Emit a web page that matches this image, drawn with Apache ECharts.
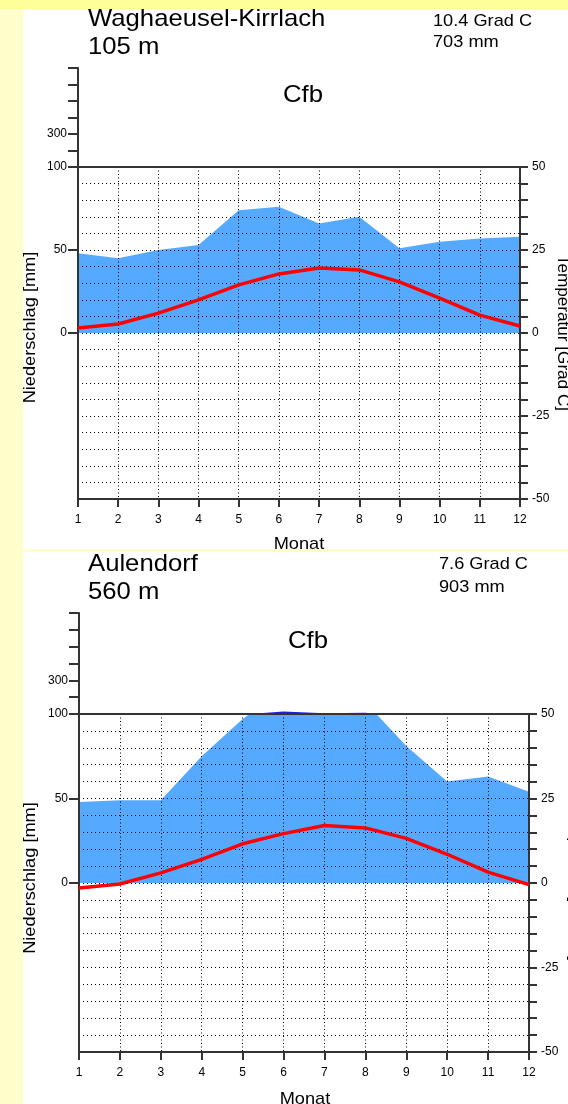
<!DOCTYPE html>
<html>
<head>
<meta charset="utf-8">
<script src="https://cdn.jsdelivr.net/npm/echarts@6/dist/echarts.min.js"></script>
<style>
html,body{margin:0;padding:0;background:#fff;}
#c{width:568px;height:1104px;}
</style>
</head>
<body>
<div id="c"></div>
<script>
// ---- data ----
const months = [1,2,3,4,5,6,7,8,9,10,11,12];
const stationNames = ['Waghaeusel-Kirrlach', 'Aulendorf'];
const stationHeights = ['105 m', '560 m'];
const meanTemps = ['10.4 Grad C', '7.6 Grad C'];
const totalPrecips = ['703 mm', '903 mm'];
const climateClasses = ['Cfb', 'Cfb'];
const precip1 = [48,45,50,53,74,76,66,70,51,55,57,58];
const temp1 = [1.5,2.7,6.0,10.0,14.5,17.8,19.6,19.0,15.4,10.5,5.4,2.1];
const precip2 = [48,49,49,75,97,115,105,107,81,60,63,54];
const temp2 = [-1.5,-0.3,3.0,7.0,11.6,14.6,17.0,16.3,13.2,8.5,3.2,-0.5];
const precipTicks = [0,50,100];
const highPrecipLabels = [300];
const tempLabels = [-50,-25,0,25,50];

const FONT = 'Liberation Sans, Arial, sans-serif';
const AX = '#333';

const chart = echarts.init(document.getElementById('c'), null, {renderer:'canvas'});

// layouts per panel
const panels = [
  {left:78, width:442, highTop:68, highH:99, top:167, h:332, precip:precip1, temp:temp1},
  {left:79, width:450, highTop:613, highH:101, top:714, h:338, precip:precip2, temp:temp2}
];

const grid = [], xAxis = [], yAxis = [], series = [];
panels.forEach((p, i) => {
  const gHigh = grid.length;
  grid.push({left:p.left, top:p.highTop, width:p.width, height:p.highH, containLabel:false});
  const gMain = grid.length;
  grid.push({left:p.left, top:p.top, width:p.width, height:p.h, containLabel:false});

  const xHigh = xAxis.length;
  xAxis.push({gridIndex:gHigh, type:'value', min:1, max:12, interval:1, z:3,
    axisLine:{show:true, onZero:false, lineStyle:{color:AX, width:2}},
    axisTick:{show:false}, axisLabel:{show:false}, splitLine:{show:false}});
  const xMain = xAxis.length;
  xAxis.push({gridIndex:gMain, type:'value', min:1, max:12, interval:1, z:3,
    axisLine:{show:true, onZero:false, lineStyle:{color:AX, width:2}},
    axisTick:{show:true, inside:false, length:8, lineStyle:{color:AX, width:2}},
    axisLabel:{show:true, margin:15, fontSize:12, fontFamily:FONT, color:'#000'},
    splitLine:{show:true, lineStyle:{color:'#000', width:1, type:[1,2.5]}}});

  const yHigh = yAxis.length;
  yAxis.push({gridIndex:gHigh, type:'value', min:100, max:700, interval:100, position:'left', z:3,
    axisLine:{show:true, onZero:false, lineStyle:{color:AX, width:2}},
    axisTick:{show:true, inside:false, length:10, lineStyle:{color:AX, width:2}},
    axisLabel:{show:true, margin:11, fontSize:12, fontFamily:FONT, color:'#000',
      formatter: v => highPrecipLabels.indexOf(v) >= 0 ? String(v) : ''},
    splitLine:{show:false}});
  const yMain = yAxis.length;
  yAxis.push({gridIndex:gMain, type:'value', min:-100, max:100, interval:50, position:'left', z:3,
    axisLine:{show:true, onZero:false, lineStyle:{color:AX, width:2}},
    axisTick:{show:true, inside:false, length:10, customValues:precipTicks, lineStyle:{color:AX, width:2}},
    axisLabel:{show:true, margin:11, fontSize:12, fontFamily:FONT, color:'#000', customValues:precipTicks},
    splitLine:{show:false}});
  const yTemp = yAxis.length;
  yAxis.push({gridIndex:gMain, type:'value', min:-50, max:50, interval:5, position:'right', z:3,
    axisLine:{show:true, onZero:false, lineStyle:{color:AX, width:2}},
    axisTick:{show:true, inside:false, length:8, lineStyle:{color:AX, width:2}},
    axisLabel:{show:true, margin:12, fontSize:12, fontFamily:FONT, color:'#000',
      formatter: v => tempLabels.indexOf(v) >= 0 ? String(v) : ''},
    splitLine:{show:true, lineStyle:{color:'#000', width:1, type:[1,3]}}});

  const pData = months.map((m, k) => [m, p.precip[k]]);
  const tData = months.map((m, k) => [m, p.temp[k]]);
  series.push({type:'line', xAxisIndex:xMain, yAxisIndex:yMain, data:pData, z:1,
    showSymbol:false, symbol:'none', clip:true, silent:true,
    lineStyle:{width:0, opacity:0}, areaStyle:{color:'#55aaff', opacity:1, origin:'auto'}});
  series.push({type:'line', xAxisIndex:xHigh, yAxisIndex:yHigh, data:pData, z:1,
    showSymbol:false, symbol:'none', clip:true, silent:true,
    lineStyle:{width:0, opacity:0}, areaStyle:{color:'#1f1fd6', opacity:1, origin:'start'}});
  series.push({type:'line', xAxisIndex:xMain, yAxisIndex:yTemp, data:tData, z:5,
    showSymbol:false, symbol:'none', clip:true, silent:true,
    lineStyle:{color:'#ff0000', width:3.5}});
});

function txt(text, x, y, size, align, rotation, sx) {
  return {type:'text', x:x, y:y, rotation:rotation||0, scaleX: sx||1.07, z:50, silent:true,
    style:{text:text, fontSize:size, fontFamily:FONT, fill:'#000',
      align:align||'left', textAlign:align||'left', verticalAlign:'middle', textVerticalAlign:'middle'}};
}

const graphic = [
  {type:'rect', shape:{x:0, y:0, width:23, height:1104}, style:{fill:'#ffffcc'}, z:0, silent:true},
  {type:'rect', shape:{x:0, y:0, width:568, height:9}, style:{fill:'#ffff99'}, z:0, silent:true},
  {type:'rect', shape:{x:23, y:549, width:545, height:3}, style:{fill:'#ffffcc'}, z:100, silent:true},
  // panel 1
  txt(stationNames[0], 88, 19, 24),
  txt(stationHeights[0], 88, 47.5, 24),
  txt(meanTemps[0], 433, 21, 17),
  txt(totalPrecips[0], 433, 42.5, 17),
  txt(climateClasses[0], 283, 95, 24),
  txt('Niederschlag [mm]', 30, 327.5, 17, 'center', Math.PI/2),
  txt('Temperatur [Grad C]', 562, 333, 16, 'center', -Math.PI/2),
  txt('Monat', 299, 544, 17, 'center'),
  // panel 2
  txt(stationNames[1], 88, 564.5, 24),
  txt(stationHeights[1], 88, 592.5, 24),
  txt(meanTemps[1], 439, 564, 17),
  txt(totalPrecips[1], 439, 587.5, 17),
  txt(climateClasses[1], 288, 641.5, 24),
  txt('Niederschlag [mm]', 30, 878, 17, 'center', Math.PI/2),
  txt('Temperatur [Grad C]', 574, 883, 16, 'center', -Math.PI/2),
  txt('Monat', 305, 1099, 17, 'center')
];

chart.setOption({
  animation:false,
  backgroundColor:'#ffffff',
  grid:grid, xAxis:xAxis, yAxis:yAxis, series:series, graphic:graphic
});
</script>
</body>
</html>
